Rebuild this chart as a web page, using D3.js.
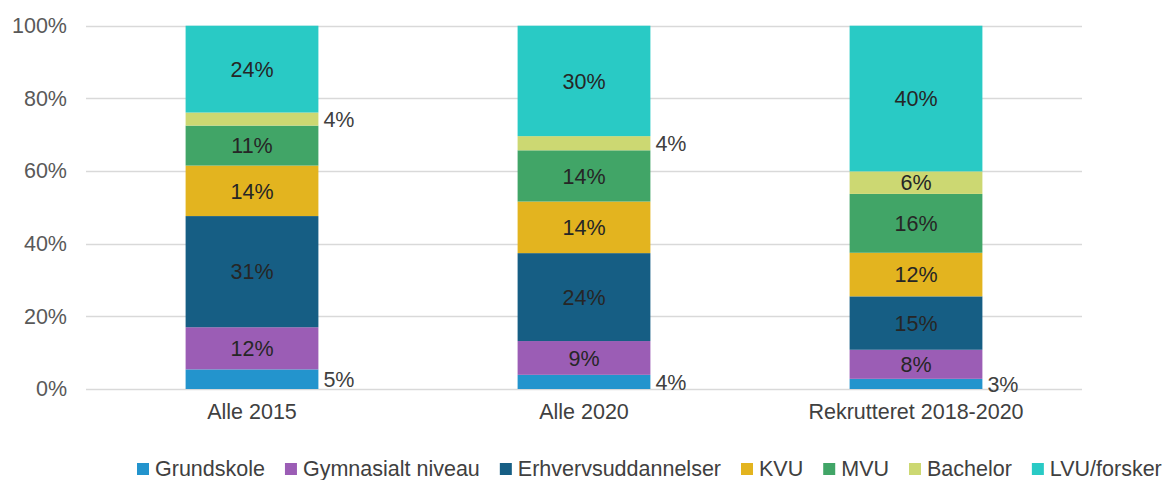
<!DOCTYPE html>
<html lang="da">

<head>
  <meta charset="UTF-8">
  <title>Uddannelsesniveau</title>
  <script src="https://d3js.org/d3.v7.min.js"></script>
  <style>
    body {
      margin: 0;
      background: #fff;
    }

    text {
      font-family: "Liberation Sans", Arial, sans-serif;
    }
  </style>
</head>

<body>
  <script>
    // data (shares in %)
    var categories = ["Alle 2015", "Alle 2020", "Rekrutteret 2018-2020"]
    var seriesNames = ["Grundskole", "Gymnasialt niveau", "Erhvervsuddannelser", "KVU", "MVU", "Bachelor", "LVU/forsker"]
    var grundskole = [5.4, 3.9, 2.8]
    var gymnasialt = [11.6, 9.3, 8.0]
    var erhverv = [30.6, 24.2, 14.7]
    var kvu = [13.9, 14.2, 12.0]
    var mvu = [11.0, 14.1, 16.2]
    var bachelor = [3.6, 3.9, 6.2]
    var lvu = [23.9, 30.4, 40.1]
    var yTicks = [0, 20, 40, 60, 80, 100]

    var colors = ["#2394cd", "#9b5db5", "#165e84", "#e3b41f", "#41a567", "#ccd872", "#29cac5"]

    w = 1164
    h = 480
    var fontSize = 21.5

    var allSeries = [grundskole, gymnasialt, erhverv, kvu, mvu, bachelor, lvu]
    var rows = categories.map(function (c, i) {
      var r = { cat: c }
      seriesNames.forEach(function (s, j) { r[s] = allSeries[j][i] })
      return r
    })
    var stacked = d3.stack().keys(seriesNames)(rows)

    var x = d3.scaleBand().domain(categories).range([86, 1082]).paddingInner(0.6).paddingOuter(0.3)
    var y = d3.scaleLinear().domain([0, 100]).range([389, 25.7])

    var svg = d3.select("body").append("svg")
      .attr("width", w)
      .attr("height", h)

    // gridlines
    svg.append("g")
      .selectAll("line")
      .data(yTicks)
      .enter().append("line")
      .attr("x1", 86)
      .attr("x2", 1082)
      .attr("y1", function (d) { return Math.round(y(d)) + 0.5 })
      .attr("y2", function (d) { return Math.round(y(d)) + 0.5 })
      .attr("stroke", "#d9d9d9")
      .attr("stroke-width", 1.3)

    // y axis labels
    var yAxis = svg.append("g")
      .attr("transform", "translate(67,0)")
      .call(d3.axisLeft(y).tickValues(yTicks).tickSize(0).tickPadding(0)
        .tickFormat(function (d) { return d + "%" }))
    yAxis.select(".domain").remove()
    yAxis.selectAll("text")
      .attr("font-family", "Liberation Sans, Arial, sans-serif")
      .attr("font-size", fontSize)
      .attr("fill", "#595959")

    // x axis labels
    var xAxis = svg.append("g")
      .attr("transform", "translate(0,404)")
      .call(d3.axisBottom(x).tickSize(0).tickPadding(0))
    xAxis.select(".domain").remove()
    xAxis.selectAll("text")
      .attr("font-family", "Liberation Sans, Arial, sans-serif")
      .attr("font-size", fontSize)
      .attr("fill", "#404040")
      .attr("dy", "0.71em")

    // bars
    var layers = svg.selectAll(".layer")
      .data(stacked)
      .enter().append("g")
      .attr("class", "layer")
      .attr("fill", function (d, i) { return colors[i] })

    layers.selectAll("rect")
      .data(function (d) { return d })
      .enter().append("rect")
      .attr("x", function (d) { return x(d.data.cat) })
      .attr("width", x.bandwidth())
      .attr("y", function (d) { return y(d[1]) })
      .attr("height", function (d) { return y(d[0]) - y(d[1]) })

    // value labels: small segments get their label to the right of the bar
    layers.selectAll("text")
      .data(function (d) { return d })
      .enter().append("text")
      .attr("font-size", fontSize)
      .attr("fill", "#262626")
      .attr("dy", "0.36em")
      .each(function (d) {
        var segH = y(d[0]) - y(d[1])
        var t = d3.select(this)
        t.attr("y", (y(d[0]) + y(d[1])) / 2)
        if (segH < 21) {
          t.attr("x", x(d.data.cat) + x.bandwidth() + 5).attr("text-anchor", "start").attr("fill", "#404040")
        } else {
          t.attr("x", x(d.data.cat) + x.bandwidth() / 2).attr("text-anchor", "middle")
        }
        t.text(Math.round(d[1] - d[0]) + "%")
      })

    // legend
    var legend = svg.append("g").attr("transform", "translate(137,0)")
    var lx = 0
    seriesNames.forEach(function (s, i) {
      var item = legend.append("g").attr("transform", "translate(" + lx + ",0)")
      item.append("rect")
        .attr("x", 0)
        .attr("y", 463)
        .attr("width", 12)
        .attr("height", 12)
        .attr("fill", colors[i])
      var t = item.append("text")
        .attr("x", 18)
        .attr("y", 476)
        .attr("font-size", fontSize)
        .attr("fill", "#404040")
        .text(s)
      lx += 18 + t.node().getComputedTextLength() + 20
    })
  </script>
</body>

</html>
